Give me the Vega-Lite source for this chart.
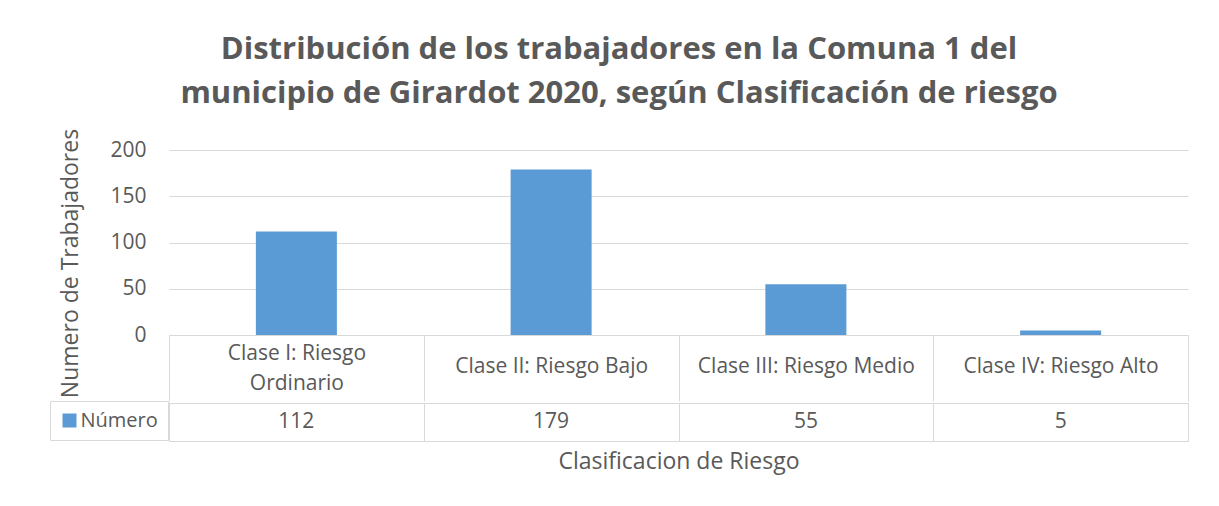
{
  "$schema": "https://vega.github.io/schema/vega-lite/v6.json",
  "background": "white",
  "padding": {"left": 49, "top": 34, "right": 25, "bottom": 5},
  "title": {
    "text": ["Distribución de los trabajadores en la Comuna 1 del", "municipio de Girardot 2020, según Clasificación de riesgo"],
    "font": "Open Sans", "fontSize": 31, "fontWeight": "bold", "color": "#595959",
    "lineHeight": 44, "anchor": "middle", "offset": 18
  },
  "datasets": {
    "riesgo": [
      {"clase": "Clase I: Riesgo Ordinario", "numero": 112, "serie": "Número"},
      {"clase": "Clase II: Riesgo Bajo", "numero": 179, "serie": "Número"},
      {"clase": "Clase III: Riesgo Medio", "numero": 55, "serie": "Número"},
      {"clase": "Clase IV: Riesgo Alto", "numero": 5, "serie": "Número"}
    ]
  },
  "spacing": 0,
  "resolve": {"scale": {"x": "independent", "y": "independent"}, "axis": {"x": "independent", "y": "independent"}},
  "vconcat": [
    {
      "data": {"name": "riesgo"},
      "width": 1019,
      "height": 185,
      "view": {"stroke": null},
      "mark": {"type": "bar", "width": {"band": 0.318}},
      "encoding": {
        "x": {
          "field": "clase", "type": "nominal", "sort": null,
          "scale": {"paddingInner": 0, "paddingOuter": 0},
          "axis": {
            "title": null, "domain": true, "domainColor": "#d9d9d9", "domainWidth": 1,
            "ticks": true, "tickBand": "extent", "tickSize": 66, "tickColor": "#d9d9d9", "tickWidth": 1,
            "labelAngle": 0, "labelFont": "Open Sans", "labelFontSize": 21, "labelColor": "#595959",
            "labelBaseline": "middle",
            "labelPadding": {"condition": {"test": "datum.value == 'Clase I: Riesgo Ordinario'", "value": -48}, "value": -34.5},
            "labelLineHeight": 30,
            "labelLimit": 0, "labelOverlap": false,
            "labelExpr": "datum.label == 'Clase I: Riesgo Ordinario' ? ['Clase I: Riesgo', 'Ordinario'] : datum.label"
          }
        },
        "y": {
          "field": "numero", "type": "quantitative",
          "scale": {"domain": [0, 200]},
          "axis": {
            "title": "Numero de Trabajadores", "values": [0, 50, 100, 150, 200],
            "grid": true, "gridColor": "#d9d9d9", "gridWidth": 1, "domain": false, "ticks": false,
            "labelFont": "Open Sans", "labelFontSize": 21, "labelColor": "#595959", "labelPadding": 23,
            "titleFont": "Open Sans", "titleFontSize": 23, "titleFontWeight": "normal", "titleColor": "#595959",
            "titlePadding": 27, "titleY": 113
          }
        },
        "color": {
          "field": "serie", "type": "nominal",
          "scale": {"range": ["#5b9bd5"]},
          "legend": {
            "orient": "none", "legendX": -119, "legendY": 251, "title": null,
            "symbolType": "square", "symbolSize": 196, "symbolStrokeWidth": 0,
            "labelFont": "Open Sans", "labelFontSize": 20, "labelColor": "#595959",
            "strokeColor": "#d9d9d9", "padding": 9.5, "symbolOffset": 0, "labelOffset": 1
          }
        }
      }
    },
    {
      "data": {"name": "riesgo"},
      "width": 1019,
      "height": 38,
      "view": {"stroke": "#d9d9d9"},
      "mark": {"type": "text", "font": "Open Sans", "fontSize": 21, "fill": "#595959", "baseline": "middle"},
      "encoding": {
        "x": {
          "field": "clase", "type": "nominal", "sort": null,
          "scale": {"paddingInner": 0, "paddingOuter": 0},
          "axis": {
            "title": "Clasificacion de Riesgo", "labels": false, "ticks": false, "domain": false,
            "grid": true, "tickBand": "extent", "gridColor": "#d9d9d9", "gridWidth": 1,
            "titleFont": "Open Sans", "titleFontSize": 23, "titleFontWeight": "normal", "titleColor": "#595959",
            "titlePadding": 9
          }
        },
        "text": {"field": "numero", "type": "quantitative"}
      }
    }
  ]
}
